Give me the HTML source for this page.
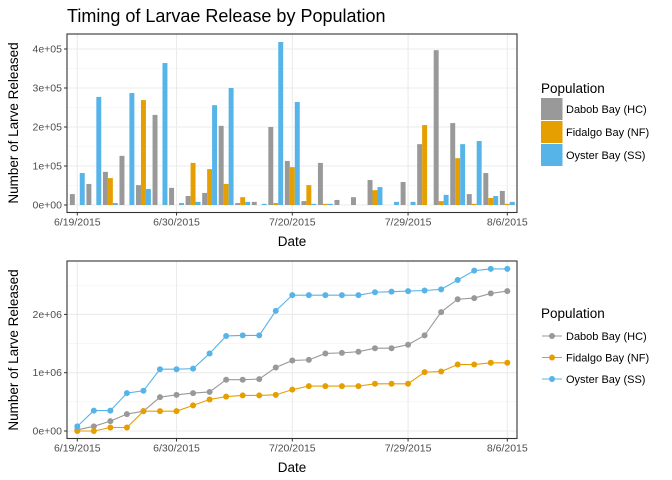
<!DOCTYPE html>
<html><head><meta charset="utf-8"><style>
body{margin:0;background:#fff;}
svg{font-family:"Liberation Sans",sans-serif;display:block;}
</style></head><body>
<svg id="chart" width="672" height="480" viewBox="0 0 672 480"></svg>
<script>
const dates = ["6/19/2015","6/20","6/21","6/22","6/23","6/24","6/30/2015","7/1","7/2","7/3","7/4","7/5","7/6","7/20/2015","7/21","7/22","7/23","7/24","7/25","7/26","7/29/2015","7/30","7/31","8/1","8/2","8/3","8/6/2015"];
const tickIdx = [0,6,13,20,26];
const tickLabels = ["6/19/2015","6/30/2015","7/20/2015","7/29/2015","8/6/2015"];
const popNames = ["Dabob Bay (HC)","Fidalgo Bay (NF)","Oyster Bay (SS)"];
const colors = ["#999999","#E69F00","#56B4E9"];
const dabob = [28000,54000,85000,126000,51000,231000,44000,23000,31000,203000,5000,8000,200000,113000,10000,108000,13000,20000,64000,0,59000,156000,397000,210000,28000,82000,36000];
const fidalgo = [0,0,69000,0,269000,0,0,108000,92000,54000,20000,0,5000,97000,51000,3000,0,0,38000,0,0,205000,10000,120000,3000,18000,3000];
const oyster = [82000,277000,5000,287000,41000,364000,5000,8000,256000,300000,8000,3000,418000,264000,3000,3000,0,0,46000,8000,8000,0,26000,156000,164000,23000,8000];
const cumDabob = [0.02,0.08,0.17,0.29,0.34,0.58,0.62,0.65,0.67,0.88,0.88,0.89,1.09,1.21,1.22,1.33,1.34,1.36,1.42,1.42,1.48,1.64,2.04,2.26,2.28,2.36,2.40];
const cumFidalgo = [0,0,0.06,0.06,0.34,0.34,0.34,0.44,0.54,0.59,0.61,0.61,0.62,0.71,0.77,0.77,0.77,0.77,0.81,0.81,0.81,1.01,1.02,1.14,1.14,1.17,1.17];
const cumOyster = [0.08,0.35,0.35,0.65,0.69,1.06,1.06,1.07,1.33,1.63,1.64,1.64,2.06,2.33,2.33,2.33,2.33,2.33,2.38,2.39,2.40,2.41,2.43,2.59,2.75,2.78,2.78];
const topTicks = [0,100000,200000,300000,400000];
const topTickLabels = ["0e+00","1e+05","2e+05","3e+05","4e+05"];
const botTicks = [0,1,2];
const botTickLabels = ["0e+00","1e+06","2e+06"];

const NS="http://www.w3.org/2000/svg";
const svg=document.getElementById('chart');
function mk(tag,attrs,parent,name,inter){const e=document.createElementNS(NS,tag);for(const k in attrs)e.setAttribute(k,attrs[k]);


(parent||svg).appendChild(e);return e;}
function txt(s,attrs,parent,name){const e=mk('text',attrs,parent,name,false);e.textContent=s;return e;}

const PL=67,PR=517;
const step=(PR-PL-20)/ (dates.length-1); // ~15.8
const x0=PL+10.3;
const xs=i=>x0+i*((507.3-77.3)/(dates.length-1));
const bw=((507.3-77.3)/(dates.length-1))*0.9/3;

txt("Timing of Larvae Release by Population",{x:67,y:22,"font-size":18,fill:"#000"},svg,"chart-title");

function panel(top,bot,ys,ticks,labels,minor,name){
  const g=mk('g',{},svg,name,false);
  mk('rect',{x:PL,y:top,width:PR-PL,height:bot-top,fill:"#fff"},g,name+"-background",false);
  minor.forEach(v=>mk('line',{x1:PL,x2:PR,y1:ys(v),y2:ys(v),stroke:"#f2f2f2","stroke-width":0.6},g,"minor-gridline",false));
  ticks.forEach(v=>mk('line',{x1:PL,x2:PR,y1:ys(v),y2:ys(v),stroke:"#ebebeb","stroke-width":1.1},g,"major-gridline",false));
  tickIdx.forEach(i=>mk('line',{x1:xs(i),x2:xs(i),y1:top,y2:bot,stroke:"#ebebeb","stroke-width":1.1},g,"x-gridline",false));
  ticks.forEach((v,k)=>{mk('line',{x1:PL-3,x2:PL,y1:ys(v),y2:ys(v),stroke:"#333"},g,"y-tick",false);
    txt(labels[k],{x:PL-5,y:ys(v)+3.5,"font-size":10.5,fill:"#4d4d4d","text-anchor":"end"},g,"y-tick-label");});
  tickIdx.forEach((i,k)=>{mk('line',{x1:xs(i),x2:xs(i),y1:bot,y2:bot+3,stroke:"#333"},g,"x-tick",false);
    txt(tickLabels[k],{x:xs(i),y:bot+13,"font-size":10.5,fill:"#4d4d4d","text-anchor":"middle"},g,"x-tick-label");});
  return g;
}
// top
const T0=34,T1=212.5;
const yT=v=>205-v*(156/400000);
const gT=panel(T0,T1,yT,topTicks,topTickLabels,[50000,150000,250000,350000],"bar-panel");
[dabob,fidalgo,oyster].forEach((arr,s)=>arr.forEach((v,i)=>{if(v<=0)return;
  mk('rect',{x:xs(i)-1.5*bw+s*bw,y:yT(v),width:bw,height:yT(0)-yT(v),fill:colors[s]},gT,"bar-"+["dabob","fidalgo","oyster"][s],false);}));
mk('rect',{x:PL,y:T0,width:PR-PL,height:T1-T0,fill:"none",stroke:"#333","stroke-width":1.1},gT,"panel-border",false);
txt("Date",{x:292,y:246,"font-size":13.5,"text-anchor":"middle"},svg,"x-axis-title-top");
txt("Number of Larve Released",{transform:"translate(18,123) rotate(-90)","font-size":13.5,"text-anchor":"middle"},svg,"y-axis-title-top");

// bottom
const B0=261,B1=438.5;
const yB=v=>431-v*58.3;
const gB=panel(B0,B1,yB,botTicks,botTickLabels,[0.5,1.5,2.5],"line-panel");
[cumDabob,cumFidalgo,cumOyster].forEach((arr,s)=>{
  const nm=["dabob","fidalgo","oyster"][s];
  mk('polyline',{points:arr.map((v,i)=>xs(i)+","+yB(v)).join(" "),fill:"none",stroke:colors[s],"stroke-width":1.1},gB,"line-"+nm,false);
  arr.forEach((v,i)=>mk('circle',{cx:xs(i),cy:yB(v),r:3,fill:colors[s]},gB,"point-"+nm,false));
});
mk('rect',{x:PL,y:B0,width:PR-PL,height:B1-B0,fill:"none",stroke:"#333","stroke-width":1.1},gB,"panel-border",false);
txt("Date",{x:292,y:472,"font-size":13.5,"text-anchor":"middle"},svg,"x-axis-title-bottom");
txt("Number of Larve Released",{transform:"translate(18,350) rotate(-90)","font-size":13.5,"text-anchor":"middle"},svg,"y-axis-title-bottom");

// legends
const lg1=mk('g',{},svg,"legend-top",false);
txt("Population",{x:541,y:93,"font-size":13.5},lg1,"legend-title");
popNames.forEach((n,k)=>{const y=98+k*23;
  mk('rect',{x:541,y:y,width:21.5,height:22,fill:colors[k]},lg1,"legend-key",false);
  txt(n,{x:566,y:y+15,"font-size":11},lg1,"legend-entry");});
const lg2=mk('g',{},svg,"legend-bottom",false);
txt("Population",{x:541,y:318,"font-size":13.5},lg2,"legend-title");
popNames.forEach((n,k)=>{const y=336+k*21.5;
  mk('line',{x1:542,x2:562,y1:y,y2:y,stroke:colors[k],"stroke-width":1.1},lg2,"legend-line",false);
  mk('circle',{cx:552,cy:y,r:3,fill:colors[k]},lg2,"legend-point",false);
  txt(n,{x:566,y:y+4,"font-size":11},lg2,"legend-entry");});
</script>
</body></html>
